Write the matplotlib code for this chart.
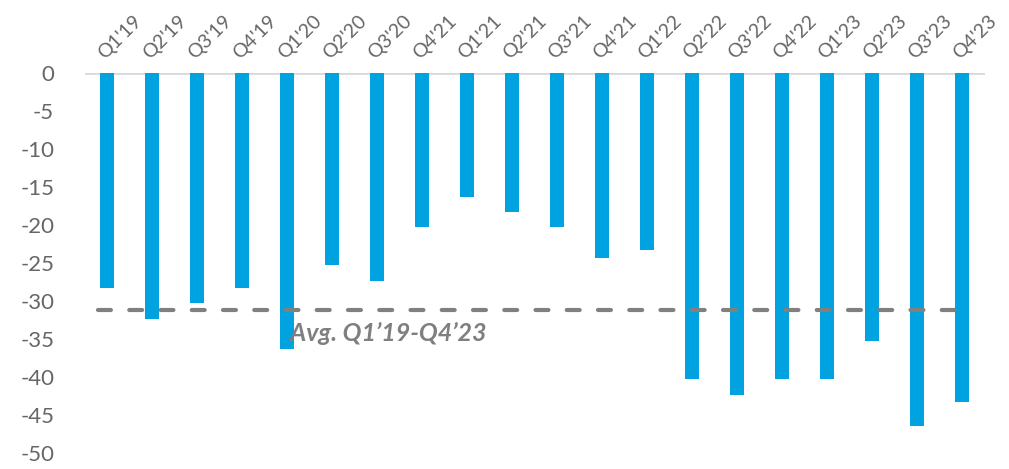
import numpy as np
import matplotlib.pyplot as plt

plt.rcParams['font.family'] = ['Lato', 'DejaVu Sans']

quarters = ["Q1'19", "Q2'19", "Q3'19", "Q4'19", "Q1'20", "Q2'20", "Q3'20", "Q4'21",
            "Q1'21", "Q2'21", "Q3'21", "Q4'21", "Q1'22", "Q2'22", "Q3'22", "Q4'22",
            "Q1'23", "Q2'23", "Q3'23", "Q4'23"]
values = [-28.3, -32.4, -30.3, -28.3, -36.3, -25.3, -27.3, -20.3, -16.3, -18.3,
          -20.3, -24.3, -23.3, -40.3, -42.3, -40.3, -40.3, -35.3, -46.4, -43.3]
avg_value = -31.2
avg_label = 'Avg. Q1\u201919-Q4\u201923'
yticks = [0, -5, -10, -15, -20, -25, -30, -35, -40, -45, -50]

fig = plt.figure(figsize=(10.09, 4.69), dpi=100)
ax = fig.add_axes([0.084, 0.034, 0.892, 0.81])

x = np.arange(len(quarters))
ax.bar(x, values, width=0.31, color='#00a3e0', zorder=2)
ax.axhline(0, color='#d9d9d9', lw=2, zorder=1)
ax.plot([-0.2, 19.1], [avg_value, avg_value], color='#808080', lw=3,
        dashes=(3.1, 4.4), dash_capstyle='round', zorder=3)
ax.text(4.05, -34.3, avg_label, color='#7f7f7f', fontsize=18,
        fontweight='bold', fontstyle='italic', va='center', ha='left')

ax.set_xlim(-0.5, 19.5)
ax.set_ylim(-50, 0)
ax.set_yticks(yticks)
ax.set_yticklabels([str(v) for v in yticks])
ax.xaxis.tick_top()
ax.set_xticks(x)
ax.set_xticklabels(quarters, rotation=45, ha='left', rotation_mode='anchor')
ax.tick_params(axis='x', length=0, pad=8, labelsize=14, labelcolor='#666666')
ax.tick_params(axis='y', length=0, pad=22, labelsize=16, labelcolor='#666666')
for s in ax.spines.values():
    s.set_visible(False)

fig.savefig('out.png', dpi=100)
